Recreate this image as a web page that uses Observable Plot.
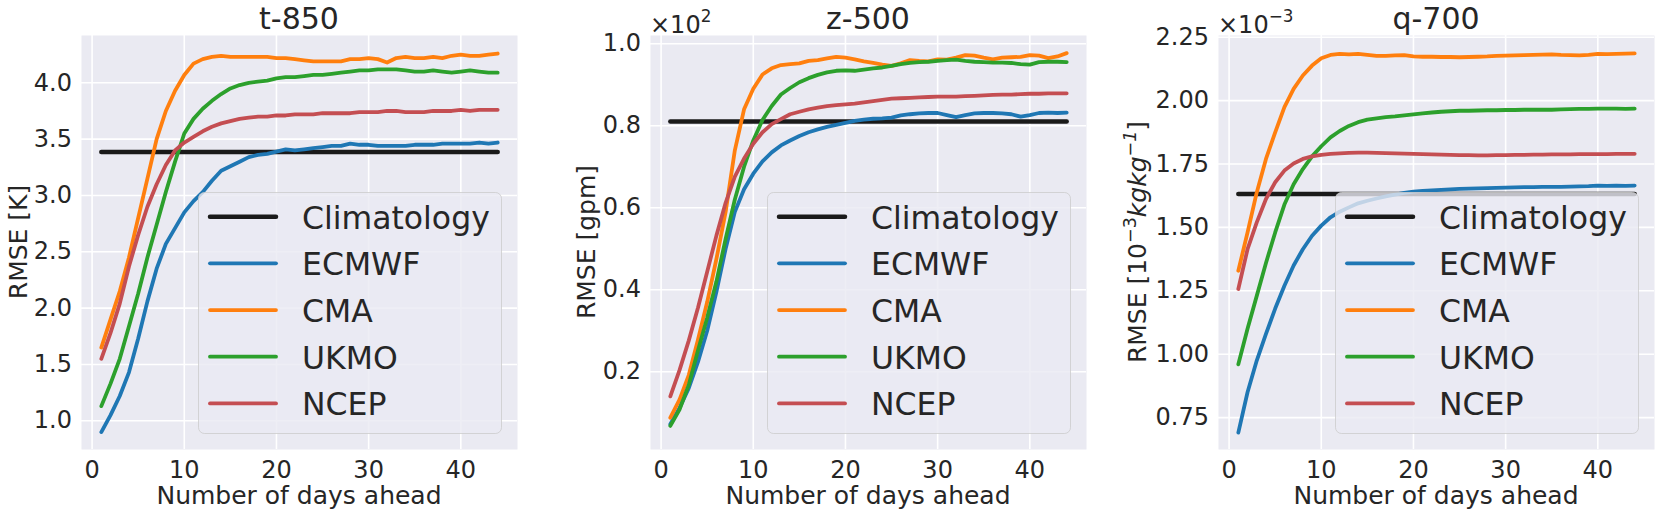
<!DOCTYPE html>
<html><head><meta charset="utf-8">
<script src="https://cdn.jsdelivr.net/npm/d3@7"></script>
<script src="https://cdn.jsdelivr.net/npm/@observablehq/plot@0.6"></script>
<style>
body{margin:0;background:#fff;}
#root{position:relative;width:1661px;height:515px;overflow:hidden;background:#fff;}
#root svg{position:absolute;top:0;}
</style></head><body><div id="root"></div>
<script>
// ---------- data ----------
const days = d3.range(1, 45);
const models = ["ECMWF", "CMA", "UKMO", "NCEP"];
const legendLabels = ["Climatology", "ECMWF", "CMA", "UKMO", "NCEP"];
const modelColors = ["#1f77b4", "#ff7f0e", "#2ca02c", "#c44e52"];
const climColor = "#1a1a1a";
const xTicks = [0, 10, 20, 30, 40];
const titles = ["t-850", "z-500", "q-700"];

const t850Ticks = [1.0, 1.5, 2.0, 2.5, 3.0, 3.5, 4.0];
const z500Ticks = [20, 40, 60, 80, 100];
const q700Ticks = [0.75, 1.0, 1.25, 1.5, 1.75, 2.0, 2.25];

const t850_clim = 3.385;
const t850_ECMWF = [0.90, 1.05, 1.22, 1.43, 1.73, 2.06, 2.35, 2.57, 2.71, 2.85, 2.95,
  3.03, 3.13, 3.22, 3.26, 3.30, 3.34, 3.36, 3.37, 3.39, 3.41, 3.40,
  3.41, 3.42, 3.43, 3.44, 3.44, 3.46, 3.45, 3.45, 3.44, 3.44, 3.44,
  3.44, 3.45, 3.45, 3.45, 3.46, 3.46, 3.46, 3.46, 3.47, 3.46, 3.47];
const t850_CMA = [1.65, 1.90, 2.15, 2.45, 2.80, 3.15, 3.50, 3.75, 3.93, 4.07, 4.17,
  4.21, 4.23, 4.24, 4.23, 4.23, 4.23, 4.23, 4.23, 4.22, 4.22, 4.21,
  4.20, 4.19, 4.19, 4.19, 4.19, 4.21, 4.21, 4.22, 4.21, 4.18, 4.22,
  4.23, 4.22, 4.22, 4.23, 4.22, 4.24, 4.25, 4.24, 4.24, 4.25, 4.26];
const t850_UKMO = [1.13, 1.33, 1.55, 1.84, 2.13, 2.45, 2.74, 3.03, 3.30, 3.55, 3.68,
  3.77, 3.84, 3.90, 3.95, 3.98, 4.00, 4.01, 4.02, 4.04, 4.05, 4.05,
  4.06, 4.07, 4.07, 4.08, 4.09, 4.10, 4.11, 4.11, 4.12, 4.12, 4.12,
  4.11, 4.10, 4.10, 4.11, 4.10, 4.09, 4.10, 4.11, 4.10, 4.09, 4.09];
const t850_NCEP = [1.55, 1.78, 2.04, 2.37, 2.65, 2.90, 3.10, 3.27, 3.40, 3.47, 3.52,
  3.57, 3.61, 3.64, 3.66, 3.68, 3.69, 3.70, 3.70, 3.71, 3.71, 3.72,
  3.72, 3.72, 3.73, 3.73, 3.73, 3.73, 3.74, 3.74, 3.74, 3.75, 3.75,
  3.74, 3.74, 3.74, 3.75, 3.75, 3.75, 3.76, 3.75, 3.76, 3.76, 3.76];

const z500_clim = 81.0;
const z500_ECMWF = [7.2, 11.2, 16.0, 22.4, 30.0, 39.5, 50.0, 59.0, 64.5, 68.3, 71.3,
  73.5, 75.2, 76.4, 77.5, 78.4, 79.1, 79.7, 80.2, 80.7, 81.2, 81.5,
  81.7, 81.8, 82.0, 82.5, 82.8, 83.0, 83.1, 83.1, 82.6, 82.1, 82.6,
  83.0, 83.1, 83.1, 83.0, 82.8, 82.2, 82.6, 83.1, 83.2, 83.1, 83.2];
const z500_CMA = [8.8, 13.2, 19.2, 27.8, 37.0, 47.5, 59.0, 74.0, 84.0, 89.0, 92.5,
  94.0, 94.8, 95.0, 95.2, 95.8, 96.0, 96.4, 96.8, 96.6, 96.2, 95.7,
  95.3, 94.9, 94.6, 95.2, 96.0, 95.8, 95.7, 96.2, 96.1, 96.6, 97.2,
  97.1, 96.6, 96.2, 96.6, 96.7, 96.8, 97.2, 97.1, 96.5, 96.9, 97.7];
const z500_UKMO = [6.8, 10.8, 16.8, 25.2, 33.2, 42.0, 52.4, 62.0, 70.0, 76.4, 81.4,
  84.8, 87.6, 89.2, 90.6, 91.6, 92.4, 93.0, 93.4, 93.5, 93.4, 93.7,
  94.0, 94.2, 94.6, 95.0, 95.3, 95.5, 95.6, 95.8, 96.0, 96.1, 95.8,
  95.6, 95.5, 95.4, 95.4, 95.3, 95.0, 94.9, 95.5, 95.6, 95.6, 95.5];
const z500_NCEP = [14.0, 20.4, 27.6, 35.6, 44.4, 53.2, 61.2, 67.6, 72.0, 75.6, 78.4,
  80.4, 81.6, 82.8, 83.4, 84.0, 84.4, 84.8, 85.0, 85.2, 85.4, 85.7,
  86.0, 86.3, 86.6, 86.7, 86.8, 86.9, 87.0, 87.1, 87.1, 87.1, 87.2,
  87.3, 87.4, 87.5, 87.6, 87.6, 87.7, 87.8, 87.8, 87.9, 87.9, 87.9];

const q700_clim = 1.632;
const q700_ECMWF = [0.691, 0.850, 0.975, 1.080, 1.180, 1.270, 1.350, 1.414, 1.467, 1.507, 1.540,
  1.562, 1.579, 1.595, 1.605, 1.614, 1.622, 1.629, 1.636, 1.641, 1.644, 1.646,
  1.648, 1.650, 1.652, 1.653, 1.654, 1.655, 1.656, 1.657, 1.658, 1.659, 1.659,
  1.660, 1.660, 1.660, 1.661, 1.662, 1.663, 1.665, 1.664, 1.665, 1.664, 1.665];
const q700_CMA = [1.329, 1.480, 1.638, 1.770, 1.875, 1.974, 2.046, 2.099, 2.138, 2.167, 2.180,
  2.184, 2.182, 2.184, 2.180, 2.176, 2.176, 2.178, 2.179, 2.174, 2.173, 2.173,
  2.172, 2.172, 2.171, 2.172, 2.173, 2.174, 2.176, 2.177, 2.178, 2.179, 2.180,
  2.181, 2.182, 2.180, 2.179, 2.178, 2.180, 2.184, 2.183, 2.184, 2.185, 2.186];
const q700_UKMO = [0.960, 1.100, 1.230, 1.360, 1.480, 1.590, 1.670, 1.730, 1.780, 1.820, 1.855,
  1.880, 1.900, 1.915, 1.925, 1.930, 1.935, 1.938, 1.942, 1.946, 1.950, 1.953,
  1.956, 1.958, 1.960, 1.960, 1.961, 1.962, 1.962, 1.963, 1.963, 1.964, 1.964,
  1.964, 1.964, 1.965, 1.966, 1.967, 1.967, 1.968, 1.968, 1.968, 1.967, 1.968];
const q700_NCEP = [1.257, 1.414, 1.520, 1.612, 1.678, 1.724, 1.752, 1.770, 1.780, 1.786, 1.790,
  1.792, 1.794, 1.795, 1.795, 1.794, 1.793, 1.792, 1.791, 1.790, 1.789, 1.788,
  1.787, 1.786, 1.785, 1.785, 1.784, 1.784, 1.785, 1.785, 1.786, 1.786, 1.787,
  1.787, 1.788, 1.788, 1.788, 1.789, 1.789, 1.789, 1.789, 1.790, 1.790, 1.790];

// ---------- layout ----------
const FONT = "DejaVu Sans";
const TEXT = "#262626";
const H = 515, MT = 35, MB = 66;

const panels = [
  {title: titles[0], left: 0, width: 540, ml: 81, mr: 23, yDomain: [0.745, 4.42], yTicks: t850Ticks,
   fmt: d => d.toFixed(1), clim: t850_clim, series: [t850_ECMWF, t850_CMA, t850_UKMO, t850_NCEP],
   ylx: 26.7, ylabel: [{t: "RMSE [K]"}], offset: null},
  {title: titles[1], left: 540, width: 570, ml: 110, mr: 24, yDomain: [1.05, 102.0], yTicks: z500Ticks,
   fmt: d => (d / 100).toFixed(1), clim: z500_clim, series: [z500_ECMWF, z500_CMA, z500_UKMO, z500_NCEP],
   ylx: 55, ylabel: [{t: "RMSE [gpm]"}], offset: "2"},
  {title: titles[2], left: 1110, width: 551, ml: 108, mr: 7, yDomain: [0.6242, 2.2567], yTicks: q700Ticks,
   fmt: d => d.toFixed(2), clim: q700_clim, series: [q700_ECMWF, q700_CMA, q700_UKMO, q700_NCEP],
   ylx: 36, ylabel: [{t: "RMSE [10"}, {t: "\u22123", sup: true}, {t: "kgkg", it: true}, {t: "\u22121", sup: true, it: true}, {t: "]"}], offset: "\u22123"}
];

const root = document.getElementById("root");

function addRich(textSel, parts, size) {
  let shifted = false;
  parts.forEach(p => {
    const ts = textSel.append("tspan").text(p.t);
    if (p.sup) { ts.attr("font-size", size * 0.7).attr("dy", -size * 0.42); shifted = true; }
    else if (shifted) { ts.attr("dy", size * 0.42); shifted = false; }
    if (p.it) ts.attr("font-style", "italic");
  });
}

panels.forEach(cfg => {
  const rows = [];
  models.forEach((m, i) => cfg.series[i].forEach((v, j) => rows.push({model: m, day: days[j], value: v})));
  const climRows = days.map(d => ({day: d, value: cfg.clim}));

  const plot = Plot.plot({
    width: cfg.width, height: H,
    marginLeft: cfg.ml, marginRight: cfg.mr, marginTop: MT, marginBottom: MB,
    x: {domain: [-1.15, 46.15]},
    y: {domain: cfg.yDomain},
    color: {domain: models, range: modelColors},
    style: {fontFamily: FONT, fontSize: "24px", color: TEXT, background: "transparent", overflow: "visible"},
    marks: [
      Plot.frame({fill: "#EAEAF2", stroke: "none"}),
      Plot.gridX(xTicks, {stroke: "white", strokeOpacity: 1, strokeWidth: 1.6}),
      Plot.gridY(cfg.yTicks, {stroke: "white", strokeOpacity: 1, strokeWidth: 1.6}),
      Plot.axisX(xTicks, {tickSize: 0, tickPadding: 11, fontSize: 24, label: null, tickFormat: d => String(d)}),
      Plot.axisY(cfg.yTicks, {tickSize: 0, tickPadding: 9.5, fontSize: 24, label: null, tickFormat: cfg.fmt}),
      Plot.line(climRows, {x: "day", y: "value", stroke: climColor, strokeWidth: 4.5}),
      Plot.line(rows, {x: "day", y: "value", z: "model", stroke: "model", strokeWidth: 3.8})
    ]
  });
  plot.style.left = cfg.left + "px";
  root.appendChild(plot);

  const svg = d3.select(plot);
  const fx0 = cfg.ml, fx1 = cfg.width - cfg.mr, fy1 = H - MB;
  const cx = (fx0 + fx1) / 2;

  svg.append("text").attr("x", cx).attr("y", 29.3).attr("text-anchor", "middle")
    .attr("font-family", FONT).attr("font-size", 30).attr("fill", TEXT).text(cfg.title);

  svg.append("text").attr("x", cx).attr("y", 503.5).attr("text-anchor", "middle")
    .attr("font-family", FONT).attr("font-size", 25).attr("fill", TEXT).text("Number of days ahead");

  const yl = svg.append("text").attr("transform", `translate(${cfg.ylx},242) rotate(-90)`)
    .attr("text-anchor", "middle").attr("font-family", FONT).attr("font-size", 25).attr("fill", TEXT);
  addRich(yl, cfg.ylabel, 25);

  if (cfg.offset) {
    const ot = svg.append("text").attr("x", fx0).attr("y", 32.5).attr("text-anchor", "start")
      .attr("font-family", FONT).attr("font-size", 24).attr("fill", TEXT);
    addRich(ot, [{t: "\u00d710"}, {t: cfg.offset, sup: true}], 24);
  }

  // legend
  const lw = 304, lh = 242;
  const lx = fx1 - 15 - lw, ly = fy1 - 15 - lh;
  const g = svg.append("g").attr("text-anchor", "start");
  g.append("rect").attr("x", lx + 0.5).attr("y", ly + 0.5).attr("width", lw - 1).attr("height", lh - 1)
    .attr("rx", 6).attr("fill", "#EAEAF2").attr("fill-opacity", 0.8)
    .attr("stroke", "#cccccc").attr("stroke-opacity", 0.8).attr("stroke-width", 1);
  const lcolors = [climColor, ...modelColors];
  legendLabels.forEach((lab, i) => {
    const cy = ly + 24.7 + i * 46.67;
    g.append("line").attr("x1", lx + 12).attr("x2", lx + 78).attr("y1", cy).attr("y2", cy)
      .attr("stroke", lcolors[i]).attr("stroke-width", i === 0 ? 4.5 : 3.8).attr("stroke-linecap", "round");
    g.append("text").attr("x", lx + 104).attr("y", cy + 11.8).attr("text-anchor", "start")
      .attr("font-family", FONT).attr("font-size", 31.5).attr("fill", TEXT).text(lab);
  });
});
</script></body></html>
